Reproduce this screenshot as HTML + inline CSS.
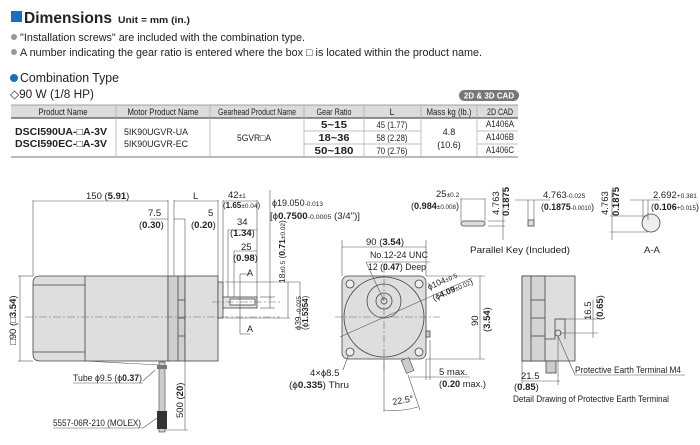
<!DOCTYPE html>
<html><head><meta charset="utf-8"><style>
body{margin:0;background:#fff;width:700px;height:445px;overflow:hidden}
svg{display:block}
text{font-family:"Liberation Sans Narrow","Liberation Sans",sans-serif;fill:#222}
.t{font-family:"Liberation Sans",sans-serif}
.d{font-size:9.5px}
.s{font-size:6.5px}
.ln{stroke:#555;stroke-width:0.6;fill:none}
.ol{stroke:#444;stroke-width:0.8}
.cl{stroke:#666;stroke-width:0.6;stroke-dasharray:8 2 2 2;fill:none}
</style></head><body>
<svg width="700" height="445" viewBox="0 0 700 445" xmlns="http://www.w3.org/2000/svg">
<!-- header -->
<rect x="11" y="11" width="11" height="11" fill="#1a6fc0"/>
<text x="24" y="23" class="t" font-size="16" font-weight="bold" textLength="88" lengthAdjust="spacingAndGlyphs">Dimensions</text>
<text x="118" y="23" class="t" font-size="9.5" font-weight="bold" textLength="72" lengthAdjust="spacingAndGlyphs">Unit = mm (in.)</text>
<circle cx="14" cy="37" r="3" fill="#999"/>
<text x="20" y="41" class="t" font-size="11" textLength="285" lengthAdjust="spacingAndGlyphs">"Installation screws" are included with the combination type.</text>
<circle cx="14" cy="52" r="3" fill="#999"/>
<text x="20" y="56" class="t" font-size="11" textLength="462" lengthAdjust="spacingAndGlyphs">A number indicating the gear ratio is entered where the box □ is located within the product name.</text>
<circle cx="14" cy="78" r="4" fill="#1a6fc0"/>
<text x="20" y="82" class="t" font-size="12.5" textLength="99" lengthAdjust="spacingAndGlyphs">Combination Type</text>
<text x="10" y="98" class="t" font-size="11.5" textLength="84" lengthAdjust="spacingAndGlyphs">◇90 W (1/8 HP)</text>
<rect x="459" y="90" width="60" height="11" rx="5.5" fill="#777"/>
<text x="489" y="98.5" class="t" font-size="8" font-weight="bold" text-anchor="middle" style="fill:#fff">2D &amp; 3D CAD</text>
<!-- table -->
<rect x="11" y="105" width="507" height="13" fill="#dcdcdc"/>
<line x1="11" y1="105" x2="518" y2="105" stroke="#888" stroke-width="0.8"/>
<line x1="11" y1="118" x2="518" y2="118" stroke="#555" stroke-width="1.2"/>
<line x1="11" y1="157" x2="518" y2="157" stroke="#777" stroke-width="1"/>
<g stroke="#aaa" stroke-width="0.7">
<line x1="116" y1="105" x2="116" y2="157"/><line x1="210" y1="105" x2="210" y2="157"/>
<line x1="304" y1="105" x2="304" y2="157"/><line x1="364" y1="105" x2="364" y2="157"/>
<line x1="421" y1="105" x2="421" y2="157"/><line x1="477" y1="105" x2="477" y2="157"/>
<line x1="304" y1="131" x2="421" y2="131"/><line x1="304" y1="144" x2="421" y2="144"/>
<line x1="477" y1="131" x2="518" y2="131"/><line x1="477" y1="144" x2="518" y2="144"/>
</g>
<g font-size="9" text-anchor="middle">
<text x="63" y="115" textLength="49" lengthAdjust="spacingAndGlyphs">Product Name</text>
<text x="163" y="115" textLength="71" lengthAdjust="spacingAndGlyphs">Motor Product Name</text>
<text x="257" y="115" textLength="78" lengthAdjust="spacingAndGlyphs">Gearhead Product Name</text>
<text x="334" y="115" textLength="35" lengthAdjust="spacingAndGlyphs">Gear Ratio</text>
<text x="392" y="115">L</text>
<text x="449" y="115" textLength="45" lengthAdjust="spacingAndGlyphs">Mass kg (lb.)</text>
<text x="500" y="115" textLength="26" lengthAdjust="spacingAndGlyphs">2D CAD</text>
<text x="334" y="128" class="t" font-weight="bold" font-size="10.5" textLength="26" lengthAdjust="spacingAndGlyphs">5~15</text>
<text x="334" y="141" class="t" font-weight="bold" font-size="10.5" textLength="31" lengthAdjust="spacingAndGlyphs">18~36</text>
<text x="334" y="154" class="t" font-weight="bold" font-size="10.5" textLength="39" lengthAdjust="spacingAndGlyphs">50~180</text>
<text x="392" y="128" textLength="31" lengthAdjust="spacingAndGlyphs">45 (1.77)</text>
<text x="392" y="141" textLength="31" lengthAdjust="spacingAndGlyphs">58 (2.28)</text>
<text x="392" y="154" textLength="31" lengthAdjust="spacingAndGlyphs">70 (2.76)</text>
<text x="449" y="135">4.8</text><text x="449" y="148">(10.6)</text>
<text x="500" y="127" textLength="28" lengthAdjust="spacingAndGlyphs">A1406A</text>
<text x="500" y="140" textLength="28" lengthAdjust="spacingAndGlyphs">A1406B</text>
<text x="500" y="153" textLength="28" lengthAdjust="spacingAndGlyphs">A1406C</text>
<text x="254" y="141" textLength="34" lengthAdjust="spacingAndGlyphs">5GVR□A</text>
</g>
<text x="15" y="135" font-size="10" font-weight="bold" class="t" textLength="92" lengthAdjust="spacingAndGlyphs">DSCI590UA-□A-3V</text>
<text x="15" y="147" font-size="10" font-weight="bold" class="t" textLength="92" lengthAdjust="spacingAndGlyphs">DSCI590EC-□A-3V</text>
<text x="124" y="135" font-size="9.5" textLength="64" lengthAdjust="spacingAndGlyphs">5IK90UGVR-UA</text>
<text x="124" y="147" font-size="9.5" textLength="64" lengthAdjust="spacingAndGlyphs">5IK90UGVR-EC</text>

<!-- side view motor -->
<path d="M40,276 H168 V361 H40 Q33,361 33,354 V283 Q33,276 40,276Z" fill="#dedede" class="ol"/>
<line x1="85" y1="276" x2="85" y2="361" class="ol"/>
<line x1="33" y1="285" x2="85" y2="285" class="ol"/><line x1="33" y1="352" x2="85" y2="352" class="ol"/>
<rect x="168" y="276" width="17" height="85" fill="#cfcfcf" class="ol"/>
<g stroke="#444" stroke-width="0.8"><line x1="178" y1="276" x2="178" y2="361"/><line x1="178" y1="300" x2="185" y2="300"/><line x1="178" y1="318" x2="185" y2="318"/><line x1="178" y1="336" x2="185" y2="336"/></g>
<rect x="185" y="276" width="33" height="85" fill="#dedede" class="ol"/>
<rect x="218" y="282" width="5" height="36" fill="#dedede" class="ol"/>
<rect x="223" y="297" width="34" height="11" fill="#e4e4e4" class="ol"/>
<rect x="230" y="299" width="25" height="6" fill="#fff" class="ol"/>
<line x1="25" y1="317" x2="280" y2="317" class="cl"/>
<line x1="212" y1="302" x2="280" y2="302" class="cl"/>
<!-- cable -->
<path d="M85,361 L160,365 L165,361" class="ln"/>
<rect x="159" y="362" width="6" height="70" fill="#ccc" stroke="#444" stroke-width="0.6"/>
<rect x="157" y="365" width="10" height="4" fill="#777"/>
<rect x="157" y="411" width="10" height="18" fill="#333"/>
<!-- side dims -->
<g class="ln">
<line x1="33" y1="200" x2="33" y2="276"/><line x1="168" y1="200" x2="168" y2="276"/><line x1="174" y1="200" x2="174" y2="276"/>
<line x1="33" y1="201" x2="168" y2="201"/><line x1="174" y1="201" x2="218" y2="201"/><line x1="218" y1="200" x2="218" y2="276"/>
<line x1="223" y1="200" x2="223" y2="290"/><line x1="257" y1="200" x2="257" y2="297"/><line x1="223" y1="201" x2="257" y2="201"/>
<line x1="150" y1="219" x2="168" y2="219"/><line x1="174" y1="219" x2="185" y2="219"/><line x1="185" y1="219" x2="185" y2="276"/>
<line x1="228" y1="230" x2="257" y2="230"/><line x1="228" y1="230" x2="228" y2="297"/>
<line x1="234" y1="251" x2="257" y2="251"/><line x1="234" y1="251" x2="234" y2="297"/>
<line x1="240" y1="274" x2="240" y2="334"/><line x1="240" y1="274" x2="250" y2="274"/><line x1="240" y1="334" x2="250" y2="334"/>
<line x1="20" y1="276" x2="20" y2="361"/><line x1="18" y1="276" x2="33" y2="276"/><line x1="18" y1="361" x2="33" y2="361"/>
<line x1="185" y1="361" x2="185" y2="430"/><line x1="165" y1="430" x2="188" y2="430"/>
<line x1="270" y1="190" x2="270" y2="300"/>
<line x1="260" y1="297" x2="275" y2="297"/><line x1="260" y1="308" x2="275" y2="308"/><line x1="270" y1="297" x2="270" y2="308"/>
<line x1="225" y1="318" x2="290" y2="318"/><line x1="288" y1="282" x2="288" y2="318"/><line x1="225" y1="282" x2="300" y2="282"/><line x1="300" y1="282" x2="300" y2="318"/>
<line x1="143" y1="381" x2="155" y2="370"/><line x1="73" y1="383" x2="143" y2="383"/>
<line x1="143" y1="428" x2="157" y2="418"/><line x1="53" y1="428" x2="143" y2="428"/>
</g>
<g class="d">
<text x="86" y="199">150 (<tspan font-weight="bold">5.91</tspan>)</text>
<text x="193" y="199">L</text>
<text x="228" y="198">42<tspan class="s">±1</tspan></text>
<text x="223" y="208" font-size="8">(<tspan font-weight="bold">1.65</tspan><tspan class="s">±0.04</tspan>)</text>
<text x="148" y="216">7.5</text><text x="139" y="228">(<tspan font-weight="bold">0.30</tspan>)</text>
<text x="208" y="216">5</text><text x="191" y="228">(<tspan font-weight="bold">0.20</tspan>)</text>
<text x="237" y="225">34</text><text x="230" y="236">(<tspan font-weight="bold">1.34</tspan>)</text>
<text x="241" y="250">25</text><text x="233" y="261">(<tspan font-weight="bold">0.98</tspan>)</text>
<text x="247" y="276" font-size="9">A</text><text x="247" y="332" font-size="9">A</text>
<text x="272" y="206" font-size="9">ϕ19.050<tspan class="s">-0.013</tspan></text>
<text x="270" y="219" font-size="9" textLength="90" lengthAdjust="spacingAndGlyphs">[ϕ<tspan font-weight="bold">0.7500</tspan><tspan class="s">-0.0005</tspan> (3/4")]</text>
<text x="73" y="381" textLength="69" lengthAdjust="spacingAndGlyphs">Tube ϕ9.5 (ϕ<tspan font-weight="bold">0.37</tspan>)</text>
<text x="53" y="426" textLength="88" lengthAdjust="spacingAndGlyphs">5557-06R-210 (MOLEX)</text>
<text transform="translate(16,345) rotate(-90)">□90 (□<tspan font-weight="bold">3.54</tspan>)</text>
<text transform="translate(183,418) rotate(-90)">500 (<tspan font-weight="bold">20</tspan>)</text>
<text transform="translate(285,283) rotate(-90)" font-size="8.5">18<tspan class="s">±0.5</tspan> (<tspan font-weight="bold">0.71</tspan><tspan class="s">±0.02</tspan>)</text>
<text transform="translate(301,330) rotate(-90)" font-size="8">ϕ39 <tspan class="s">-0.025</tspan></text>
<text transform="translate(308,330) rotate(-90)" font-size="8">(ϕ<tspan font-weight="bold">1.5354</tspan>)</text>
</g>

<!-- front view -->
<rect x="342" y="276" width="84" height="83" rx="6" fill="#dedede" class="ol"/>
<circle cx="384" cy="317" r="40" fill="#dedede" class="ol"/>
<circle cx="384" cy="301" r="17" fill="none" class="ol"/>
<circle cx="384" cy="301" r="8" fill="none" class="ol"/>
<circle cx="384" cy="301" r="3" fill="none" class="ol"/>
<g fill="#eee" class="ol"><circle cx="350" cy="284" r="4"/><circle cx="419" cy="284" r="4"/><circle cx="350" cy="352" r="4"/><circle cx="419" cy="352" r="4"/></g>
<rect x="426" y="331" width="4" height="6" fill="#ccc" class="ol"/>
<rect x="401" y="359" width="8" height="14" fill="#ccc" stroke="#444" stroke-width="0.6" transform="rotate(-22 405 359)"/>
<line x1="335" y1="317" x2="440" y2="317" class="cl"/><line x1="384" y1="265" x2="384" y2="370" class="cl"/>
<g class="ln">
<line x1="342" y1="240" x2="342" y2="276"/><line x1="426" y1="240" x2="426" y2="276"/><line x1="342" y1="247" x2="426" y2="247"/>
<line x1="426" y1="276" x2="485" y2="276"/><line x1="426" y1="359" x2="485" y2="359"/><line x1="480" y1="276" x2="480" y2="359"/>
<line x1="340" y1="337" x2="472" y2="278"/>
<line x1="384" y1="301" x2="366" y2="262"/><line x1="366" y1="262" x2="430" y2="262"/>
<line x1="348" y1="356" x2="343" y2="370"/>
<line x1="426" y1="359" x2="426" y2="380"/><line x1="430" y1="340" x2="430" y2="380"/><line x1="410" y1="377" x2="470" y2="377"/>
<line x1="384" y1="359" x2="384" y2="412"/><line x1="408" y1="375" x2="420" y2="410"/>
<path d="M384,410 Q400,412 418,407"/>
</g>
<g class="d">
<text x="366" y="245">90 (<tspan font-weight="bold">3.54</tspan>)</text>
<text x="370" y="258" textLength="58" lengthAdjust="spacingAndGlyphs">No.12-24 UNC</text>
<text x="368" y="270" textLength="58" lengthAdjust="spacingAndGlyphs">12 (<tspan font-weight="bold">0.47</tspan>) Deep</text>
<text x="429" y="290" font-size="8.5" transform="rotate(-24 429 290)">ϕ104<tspan class="s">±0.5</tspan></text>
<text x="434" y="301" font-size="8.5" transform="rotate(-24 434 301)">(ϕ<tspan font-weight="bold">4.09</tspan><tspan class="s">±0.02</tspan>)</text>
<text x="310" y="376">4×ϕ8.5</text>
<text x="289" y="388" textLength="60" lengthAdjust="spacingAndGlyphs">(ϕ<tspan font-weight="bold">0.335</tspan>) Thru</text>
<text x="439" y="375">5 max.</text>
<text x="439" y="387" textLength="47" lengthAdjust="spacingAndGlyphs">(<tspan font-weight="bold">0.20</tspan> max.)</text>
<text x="393" y="405" font-size="9" transform="rotate(-10 393 405)">22.5°</text>
<text transform="translate(478,326) rotate(-90)">90</text>
<text transform="translate(490,332) rotate(-90)">(<tspan font-weight="bold">3.54</tspan>)</text>
</g>

<!-- parallel key & A-A -->
<rect x="461" y="221" width="24" height="5" rx="2.5" fill="#ddd" class="ol"/>
<rect x="528" y="220" width="6" height="6" fill="#ddd" class="ol"/>
<circle cx="651" cy="223" r="9" fill="#eee" class="ol"/>
<g class="ln">
<line x1="461" y1="198" x2="461" y2="221"/><line x1="485" y1="198" x2="485" y2="221"/><line x1="461" y1="199" x2="485" y2="199"/>
<line x1="488" y1="221" x2="505" y2="221"/><line x1="488" y1="226" x2="505" y2="226"/><line x1="503" y1="190" x2="503" y2="240"/>
<line x1="528" y1="200" x2="528" y2="220"/><line x1="534" y1="200" x2="534" y2="220"/><line x1="515" y1="200" x2="550" y2="200"/>
<line x1="610" y1="216" x2="648" y2="216"/><line x1="610" y1="232" x2="648" y2="232"/><line x1="612" y1="190" x2="612" y2="240"/>
<line x1="643" y1="200" x2="643" y2="220"/><line x1="648" y1="200" x2="648" y2="220"/><line x1="630" y1="200" x2="660" y2="200"/>
</g>
<g class="d">
<text x="436" y="197">25<tspan class="s">±0.2</tspan></text>
<text x="411" y="209" textLength="48" lengthAdjust="spacingAndGlyphs">(<tspan font-weight="bold">0.984</tspan><tspan class="s">±0.008</tspan>)</text>
<text x="543" y="198">4.763<tspan class="s">-0.025</tspan></text>
<text x="541" y="210" textLength="53" lengthAdjust="spacingAndGlyphs">(<tspan font-weight="bold">0.1875</tspan><tspan class="s">-0.0010</tspan>)</text>
<text x="653" y="198">2.692<tspan class="s">+0.381</tspan></text>
<text x="651" y="210" textLength="48" lengthAdjust="spacingAndGlyphs">(<tspan font-weight="bold">0.106</tspan><tspan class="s">+0.015</tspan>)</text>
<text transform="translate(499,215) rotate(-90)">4.763</text>
<text transform="translate(509,216) rotate(-90)" font-weight="bold">0.1875</text>
<text transform="translate(608,215) rotate(-90)">4.763</text>
<text transform="translate(619,216) rotate(-90)" font-weight="bold">0.1875</text>
<text x="470" y="253" textLength="100" lengthAdjust="spacingAndGlyphs">Parallel Key (Included)</text>
<text x="644" y="253">A-A</text>
</g>

<!-- detail drawing -->
<rect x="522" y="276" width="53" height="85" fill="#dedede" class="ol"/>
<rect x="522" y="276" width="23" height="85" fill="#d4d4d4" class="ol"/>
<g stroke="#444" stroke-width="0.8"><line x1="531" y1="276" x2="531" y2="361"/><line x1="531" y1="300" x2="545" y2="300"/><line x1="531" y1="318" x2="545" y2="318"/><line x1="531" y1="336" x2="545" y2="336"/></g>
<path d="M545,339 H555 V319 H565 V339" class="ol" fill="none"/>
<circle cx="558" cy="333" r="3" fill="none" class="ol"/>
<rect x="546" y="361" width="10" height="12" fill="#ccc" class="ol"/>
<g class="ln">
<line x1="555" y1="319" x2="598" y2="319"/><line x1="560" y1="333" x2="598" y2="333"/><line x1="593" y1="300" x2="593" y2="338"/>
<line x1="522" y1="361" x2="522" y2="385"/><line x1="558" y1="336" x2="558" y2="385"/><line x1="522" y1="381" x2="560" y2="381"/>
<line x1="558" y1="336" x2="575" y2="375"/><line x1="575" y1="375" x2="685" y2="375"/>
</g>
<g class="d">
<text x="521" y="379">21.5</text>
<text x="514" y="390">(<tspan font-weight="bold">0.85</tspan>)</text>
<text x="575" y="373" textLength="106" lengthAdjust="spacingAndGlyphs">Protective Earth Terminal M4</text>
<text x="513" y="402" textLength="156" lengthAdjust="spacingAndGlyphs">Detail Drawing of Protective Earth Terminal</text>
<text transform="translate(591,320) rotate(-90)">16.5</text>
<text transform="translate(603,320) rotate(-90)">(<tspan font-weight="bold">0.65</tspan>)</text>
</g>
</svg>
</body></html>
